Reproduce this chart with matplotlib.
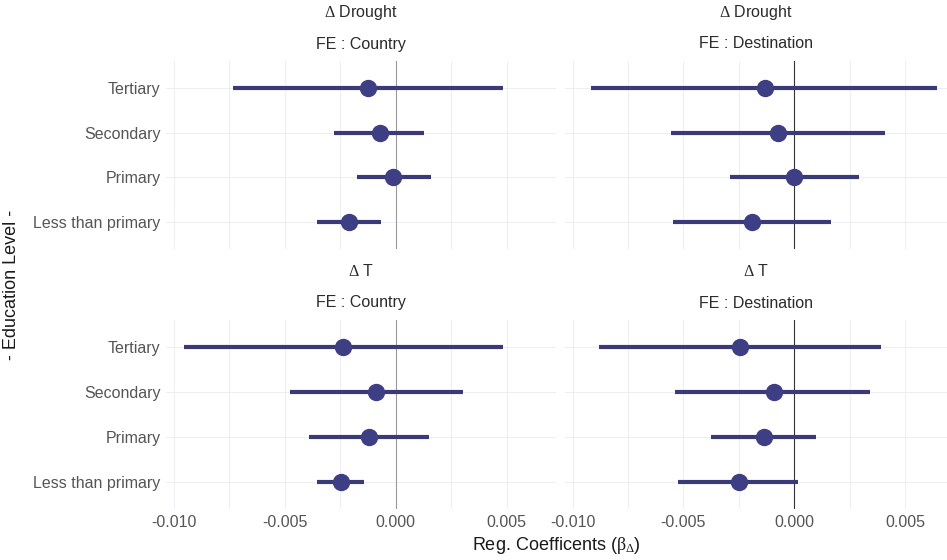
import matplotlib
matplotlib.use("Agg")
import matplotlib.pyplot as plt
import numpy as np

plt.rcParams["font.family"] = ["Liberation Sans", "DejaVu Sans"]
plt.rcParams["mathtext.fontset"] = "custom"
plt.rcParams["mathtext.rm"] = "Liberation Serif"
plt.rcParams["mathtext.it"] = "Liberation Serif"
plt.rcParams["mathtext.bf"] = "Liberation Serif:bold"

levels = ["Less than primary", "Primary", "Secondary", "Tertiary"]

# point estimates and interval bounds, order follows `levels`
drought_country_est = [-0.00209, -0.00010, -0.00072, -0.00126]
drought_country_lo = [-0.00355, -0.00175, -0.00279, -0.00730]
drought_country_hi = [-0.00065, 0.00158, 0.00130, 0.00482]

drought_dest_est = [-0.00192, 0.00000, -0.00072, -0.00134]
drought_dest_lo = [-0.00546, -0.00288, -0.00555, -0.00916]
drought_dest_hi = [0.00164, 0.00291, 0.00410, 0.00643]

temp_country_est = [-0.00245, -0.00121, -0.00086, -0.00235]
temp_country_lo = [-0.00354, -0.00392, -0.00475, -0.00954]
temp_country_hi = [-0.00141, 0.00151, 0.00304, 0.00484]

temp_dest_est = [-0.00251, -0.00138, -0.00093, -0.00243]
temp_dest_lo = [-0.00523, -0.00375, -0.00536, -0.00881]
temp_dest_hi = [0.00015, 0.00099, 0.00342, 0.00392]

xticks = [-0.010, -0.005, 0.000, 0.005]
xtick_labels = ["-0.010", "-0.005", "0.000", "0.005"]

W, H = 947, 560
LINE = "#3b3a78"
DOT = "#3e3e84"
GRID = "#eeeef2"

fig = plt.figure(figsize=(W / 100, H / 100), dpi=100)


def px_axes(x0, y0, x1, y1):
    return fig.add_axes([x0 / W, 1 - y1 / H, (x1 - x0) / W, (y1 - y0) / H])


panels = [
    # (est, lo, hi, x0, x1, y0, y1, xmax, top, col)
    (drought_country_est, drought_country_lo, drought_country_hi, 166, 556, 61, 249, 0.00723, r"$\Delta$ Drought", 0),
    (drought_dest_est, drought_dest_lo, drought_dest_hi, 565, 947, 61, 249, 0.00689, r"$\Delta$ Drought", 1),
    (temp_country_est, temp_country_lo, temp_country_hi, 166, 556, 320, 509, 0.00723, r"$\Delta$ T", 0),
    (temp_dest_est, temp_dest_lo, temp_dest_hi, 565, 947, 320, 509, 0.00689, r"$\Delta$ T", 1),
]

for est, lo, hi, x0, x1, y0, y1, xmax, top, col in panels:
    ax = px_axes(x0, y0, x1, y1)
    y = np.arange(len(levels))
    ax.set_xlim(-0.01034, xmax)
    ax.set_ylim(-0.6, len(levels) - 0.4)
    ax.set_xticks(xticks)
    ax.set_xticks([-0.0075, -0.0025, 0.0025], minor=True)
    ax.set_yticks(y)
    ax.grid(True, which="both", axis="x", color=GRID, lw=0.7)
    ax.grid(True, which="major", axis="y", color=GRID, lw=0.7)
    ax.set_axisbelow(True)
    for s in ax.spines.values():
        s.set_visible(False)
    ax.tick_params(which="both", length=0, colors="#555555", labelsize=11.5, pad=4)
    ax.axvline(0, color="#9a9a9a" if col == 0 else "#333333", lw=0.8, zorder=1)
    ax.hlines(y, lo, hi, color=LINE, lw=3.0, zorder=2)
    ax.plot(est, y, "o", color=DOT, ms=11.5, zorder=3)
    if col == 0:
        ax.set_yticklabels(levels)
    else:
        ax.set_yticklabels([])
    if y1 > 300:
        ax.set_xticklabels(xtick_labels)
    else:
        ax.set_xticklabels([])
    cx = (x0 + x1) / 2
    sub = "FE : Country" if col == 0 else "FE : Destination"
    fig.text(cx / W, 1 - (y0 - 49) / H, top, ha="center", va="center",
             fontsize=11.5, color="#2b2b2b")
    fig.text(cx / W, 1 - (y0 - 17) / H, sub, ha="center", va="center",
             fontsize=11.5, color="#2b2b2b")

fig.text(556 / W, 1 - 545 / H, r"Reg. Coefficents ($\beta_\Delta$)", ha="center",
         va="center", fontsize=13, color="#1a1a1a")
fig.text(12 / W, 1 - 285 / H, "- Education Level -", ha="center", va="center",
         rotation=90, fontsize=13, color="#1a1a1a")

fig.savefig("out.png", dpi=100, facecolor="white")
